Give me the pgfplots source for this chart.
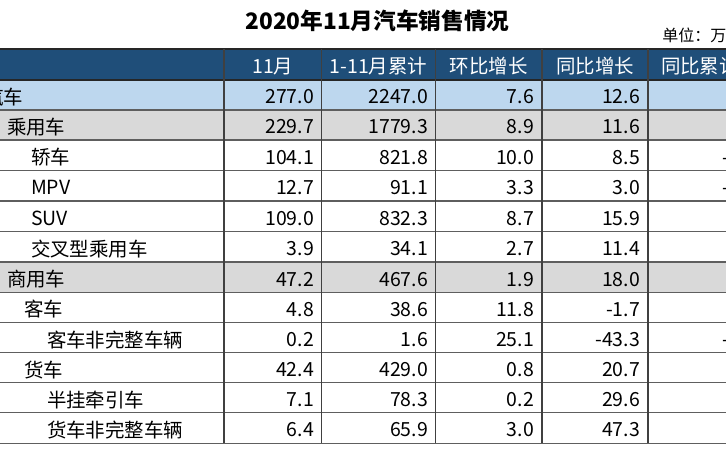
\documentclass[border=0pt]{standalone}
\usepackage{fontspec}
\usepackage{pgfplots}
\pgfplotsset{compat=1.18}
\setmainfont{Noto Sans CJK SC}
\definecolor{hdr}{HTML}{1F4E79}
\definecolor{lblue}{HTML}{BDD7EE}
\definecolor{lgray}{HTML}{D9D9D9}
\definecolor{gline}{HTML}{5E5E5E}
\definecolor{vline}{HTML}{404040}
\newcommand{\bodyfont}{\fontsize{14.6pt}{17pt}\selectfont}
\begin{document}
\begin{tikzpicture}
\path[use as bounding box, clip] (0,0) rectangle (544.5pt,340.5pt);
\begin{axis}[at={(0,0)}, anchor=south west, scale only axis,
  width=544.5pt, height=340.5pt,
  xmin=0, xmax=726, ymin=0, ymax=454, y dir=reverse,
  hide axis, clip=false,
  txt/.style={draw=none, mark=none, nodes near coords, point meta=explicit symbolic,
    nodes near coords style={inner sep=0pt, outer sep=0pt, yshift=-1.5pt, font=\bodyfont, #1}},
  hl/.style={gline, line width=1pt},
  vl/.style={vline, line width=1pt}]
% cell fills
\addplot[fill=hdr, draw=none] coordinates {(-10,49) (740,49) (740,80) (-10,80)} -- cycle;
\addplot[fill=lblue, draw=none] coordinates {(-10,80) (740,80) (740,110) (-10,110)} -- cycle;
\addplot[fill=lgray, draw=none] coordinates {(-10,110) (740,110) (740,140) (-10,140)} -- cycle;
\addplot[fill=lgray, draw=none] coordinates {(-10,262) (740,262) (740,292.3) (-10,292.3)} -- cycle;
% horizontal rules
\addplot[black!85, line width=1.2pt] coordinates {(-10,49) (740,49)};
\addplot[black!85, line width=1pt] coordinates {(-10,80) (740,80)};
\addplot[hl] coordinates {(-10,110) (740,110)};
\addplot[hl] coordinates {(-10,140) (740,140)};
\addplot[hl] coordinates {(-10,170.5) (740,170.5)};
\addplot[hl] coordinates {(-10,201) (740,201)};
\addplot[hl] coordinates {(-10,231.5) (740,231.5)};
\addplot[hl] coordinates {(-10,262) (740,262)};
\addplot[hl] coordinates {(-10,292.3) (740,292.3)};
\addplot[hl] coordinates {(-10,322.7) (740,322.7)};
\addplot[hl] coordinates {(-10,352.7) (740,352.7)};
\addplot[hl] coordinates {(-10,382.7) (740,382.7)};
\addplot[hl] coordinates {(-10,412.7) (740,412.7)};
\addplot[hl] coordinates {(-10,443.3) (740,443.3)};
% vertical rules
\addplot[vl] coordinates {(224,49) (224,443.3)};
\addplot[vl] coordinates {(321.5,49) (321.5,443.3)};
\addplot[vl] coordinates {(435.5,49) (435.5,443.3)};
\addplot[vl] coordinates {(542,49) (542,443.3)};
\addplot[vl] coordinates {(648,49) (648,443.3)};
% header texts
\addplot[txt={anchor=center, text=white}] table[meta=t] {
x y t
272.75 64.5 11月
378.5 64.5 1-11月累计
488.75 64.5 环比增长
595 64.5 同比增长
};
\addplot[txt={anchor=west, text=white}] table[meta=t] {
x y t
661 64.5 同比累计增长
};
% row labels
\addplot[txt={anchor=west}] table[meta=t] {
x y t
-16 95 汽车
7 125 乘用车
31 155.25 轿车
31 185.75 MPV
31 216.25 SUV
31 246.75 交叉型乘用车
7 277.15 商用车
24 307.5 客车
47 337.7 客车非完整车辆
24 367.7 货车
47 397.7 半挂牵引车
47 428 货车非完整车辆
};
% 11月
\addplot[txt={anchor=east}] table[meta=t] {
x y t
314 95 277.0
314 125 229.7
314 155.25 104.1
314 185.75 12.7
314 216.25 109.0
314 246.75 3.9
314 277.15 47.2
314 307.5 4.8
314 337.7 0.2
314 367.7 42.4
314 397.7 7.1
314 428 6.4
};
% 1-11月累计
\addplot[txt={anchor=east}] table[meta=t] {
x y t
428 95 2247.0
428 125 1779.3
428 155.25 821.8
428 185.75 91.1
428 216.25 832.3
428 246.75 34.1
428 277.15 467.6
428 307.5 38.6
428 337.7 1.6
428 367.7 429.0
428 397.7 78.3
428 428 65.9
};
% 环比增长
\addplot[txt={anchor=east}] table[meta=t] {
x y t
534 95 7.6
534 125 8.9
534 155.25 10.0
534 185.75 3.3
534 216.25 8.7
534 246.75 2.7
534 277.15 1.9
534 307.5 11.8
534 337.7 25.1
534 367.7 0.8
534 397.7 0.2
534 428 3.0
};
% 同比增长
\addplot[txt={anchor=east}] table[meta=t] {
x y t
640 95 12.6
640 125 11.6
640 155.25 8.5
640 185.75 3.0
640 216.25 15.9
640 246.75 11.4
640 277.15 18.0
640 307.5 -1.7
640 337.7 -43.3
640 367.7 20.7
640 397.7 29.6
640 428 47.3
};
% 同比累计增长 (only the leading minus signs are visible)
\addplot[txt={anchor=west}] table[meta=t] {
x y t
722 155.25 -10.2
722 185.75 -23.5
722 337.7 -35.8
};
% title and unit
\node[font=\fontsize{17pt}{20pt}\selectfont\bfseries, anchor=center, inner sep=0pt] at (axis cs:377.5,21) {2020年11月汽车销售情况};
\node[font=\fontsize{12pt}{14pt}\selectfont, anchor=west, inner sep=0pt] at (axis cs:662,35.5) {单位：万辆};
\end{axis}
\end{tikzpicture}
\end{document}
